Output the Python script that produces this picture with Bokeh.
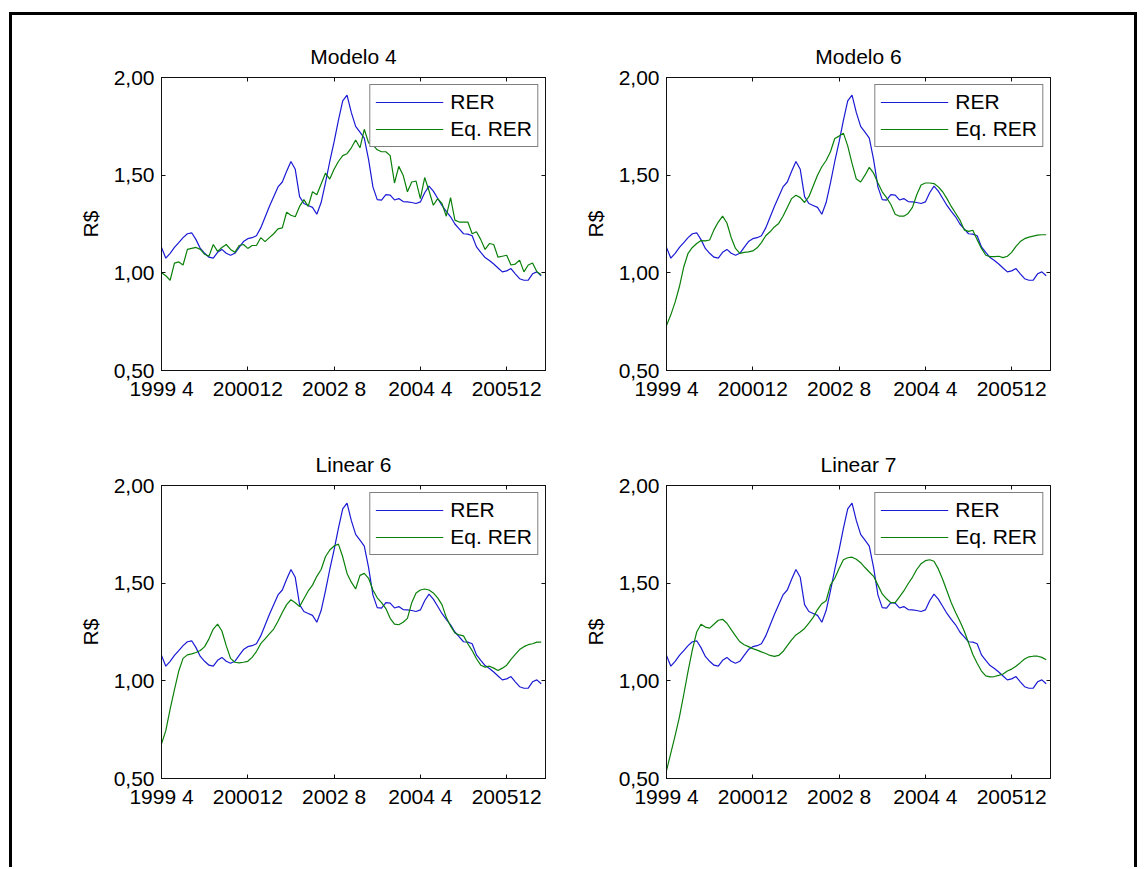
from bokeh.plotting import figure
from bokeh.models import (Range1d, FixedTicker, LinearAxis, Legend, LegendItem,
                          CustomJSTickFormatter)
from bokeh.layouts import column, row
from bokeh.embed import file_html
from bokeh.resources import INLINE

# Monthly series, 1999-04 .. 2006-08 (month index 1..89)
months = list(range(1, 90))

# Real exchange rate (R$), common to every panel
rer = [1.13, 1.075, 1.10, 1.13, 1.155, 1.18, 1.20, 1.205, 1.17, 1.125,
       1.10, 1.08, 1.075, 1.105, 1.12, 1.10, 1.09, 1.10, 1.13, 1.16,
       1.175, 1.18, 1.19, 1.23, 1.285, 1.34, 1.39, 1.44, 1.465, 1.52,
       1.57, 1.53, 1.39, 1.355, 1.345, 1.335, 1.30, 1.36, 1.46, 1.57,
       1.67, 1.78, 1.88, 1.91, 1.82, 1.75, 1.72, 1.69, 1.58, 1.44,
       1.375, 1.372, 1.40, 1.398, 1.373, 1.38, 1.365, 1.363, 1.36, 1.355,
       1.363, 1.41, 1.444, 1.418, 1.382, 1.345, 1.315, 1.287, 1.25, 1.225,
       1.20, 1.198, 1.19, 1.133, 1.105, 1.078, 1.063, 1.045, 1.025, 1.005,
       1.01, 1.022, 0.995, 0.97, 0.962, 0.963, 0.995, 1.005, 0.985]

# Equilibrium real exchange rate estimated by each model
eq_modelo4 = [1.00, 0.985, 0.962, 1.05, 1.056, 1.04, 1.12, 1.125, 1.13, 1.12,
              1.095, 1.085, 1.145, 1.11, 1.13, 1.145, 1.12, 1.105, 1.14, 1.145,
              1.125, 1.14, 1.14, 1.18, 1.16, 1.18, 1.20, 1.225, 1.23, 1.31,
              1.295, 1.287, 1.34, 1.375, 1.34, 1.415, 1.40, 1.455, 1.51, 1.48,
              1.53, 1.57, 1.60, 1.61, 1.64, 1.68, 1.64, 1.735, 1.665, 1.655,
              1.63, 1.62, 1.62, 1.60, 1.46, 1.545, 1.50, 1.415, 1.465, 1.47,
              1.38, 1.488, 1.42, 1.346, 1.38, 1.355, 1.29, 1.385, 1.27, 1.26,
              1.26, 1.26, 1.20, 1.21, 1.17, 1.12, 1.15, 1.145, 1.08, 1.085,
              1.09, 1.04, 1.045, 1.065, 1.005, 1.04, 1.05, 1.005, 0.99]

eq_modelo6 = [0.73, 0.785, 0.85, 0.93, 1.03, 1.10, 1.13, 1.15, 1.165, 1.164,
              1.168, 1.22, 1.26, 1.29, 1.255, 1.18, 1.125, 1.10, 1.105, 1.107,
              1.112, 1.128, 1.155, 1.19, 1.21, 1.235, 1.253, 1.29, 1.335, 1.38,
              1.397, 1.385, 1.36, 1.39, 1.445, 1.50, 1.543, 1.575, 1.62, 1.688,
              1.70, 1.715, 1.65, 1.56, 1.48, 1.465, 1.50, 1.54, 1.51, 1.46,
              1.415, 1.385, 1.35, 1.30, 1.29, 1.29, 1.304, 1.335, 1.40, 1.45,
              1.46, 1.46, 1.457, 1.44, 1.415, 1.38, 1.34, 1.305, 1.27, 1.22,
              1.212, 1.218, 1.17, 1.125, 1.09, 1.083, 1.083, 1.085, 1.078, 1.085,
              1.105, 1.135, 1.16, 1.175, 1.183, 1.188, 1.193, 1.195, 1.195]

eq_linear6 = [0.677, 0.745, 0.855, 0.955, 1.05, 1.115, 1.133, 1.138, 1.145, 1.155,
              1.175, 1.215, 1.265, 1.29, 1.255, 1.18, 1.115, 1.095, 1.092, 1.095,
              1.10, 1.12, 1.15, 1.19, 1.215, 1.24, 1.265, 1.305, 1.35, 1.39,
              1.415, 1.40, 1.38, 1.42, 1.46, 1.49, 1.535, 1.57, 1.635, 1.67,
              1.69, 1.70, 1.635, 1.55, 1.505, 1.47, 1.54, 1.55, 1.525, 1.465,
              1.425, 1.40, 1.37, 1.32, 1.29, 1.287, 1.30, 1.32, 1.40, 1.45,
              1.465, 1.47, 1.465, 1.45, 1.425, 1.39, 1.325, 1.28, 1.245, 1.235,
              1.23, 1.19, 1.155, 1.113, 1.08, 1.07, 1.075, 1.065, 1.053, 1.065,
              1.08, 1.11, 1.135, 1.16, 1.175, 1.185, 1.19, 1.198, 1.198]

eq_linear7 = [0.54, 0.63, 0.72, 0.815, 0.93, 1.05, 1.16, 1.25, 1.29, 1.275,
              1.27, 1.29, 1.31, 1.315, 1.295, 1.262, 1.23, 1.20, 1.185, 1.175,
              1.165, 1.157, 1.148, 1.14, 1.13, 1.125, 1.13, 1.15, 1.18, 1.21,
              1.235, 1.25, 1.268, 1.295, 1.325, 1.365, 1.395, 1.41, 1.49, 1.525,
              1.575, 1.62, 1.63, 1.633, 1.622, 1.605, 1.58, 1.557, 1.535, 1.49,
              1.445, 1.42, 1.40, 1.40, 1.43, 1.46, 1.497, 1.53, 1.57, 1.60,
              1.615, 1.62, 1.612, 1.573, 1.52, 1.46, 1.40, 1.35, 1.305, 1.255,
              1.195, 1.135, 1.09, 1.05, 1.025, 1.02, 1.022, 1.028, 1.035, 1.05,
              1.06, 1.075, 1.093, 1.112, 1.123, 1.126, 1.126, 1.12, 1.108]

x_ticks = [1, 21, 41, 61, 81]
x_tick_labels = ["1999 4", "200012", "2002 8", "2004 4", "200512"]
y_ticks = [0.5, 1.0, 1.5, 2.0]
y_tick_labels = ["0,50", "1,00", "1,50", "2,00"]

FONT = "Liberation Sans"
FS = "21px"
BLUE = "#1a1ad4"
GREEN = "#0a800a"
AXIS = "#111111"


def style_axis(ax, labels=True):
    ax.major_tick_in = 4
    ax.major_tick_out = 0
    ax.minor_tick_line_color = None
    ax.axis_line_color = AXIS
    ax.major_tick_line_color = AXIS
    if labels:
        ax.major_label_text_font = FONT
        ax.major_label_text_font_size = FS
        ax.major_label_text_color = "#000000"
    else:
        ax.formatter = CustomJSTickFormatter(code="return ''")
        ax.major_label_text_font_size = "1px"
        ax.major_label_standoff = 0


def make_panel(title, eq, w, h, bl, br, bt, bb):
    p = figure(width=w, height=h, output_backend="svg", toolbar_location=None,
               x_range=Range1d(1, 90), y_range=Range1d(0.5, 2.0),
               min_border_left=bl, min_border_right=br,
               min_border_top=bt, min_border_bottom=bb,
               background_fill_color="white", border_fill_color="white")
    p.grid.visible = False
    p.outline_line_color = AXIS

    p.xaxis.ticker = FixedTicker(ticks=x_ticks)
    p.xaxis.major_label_overrides = dict(zip(x_ticks, x_tick_labels))
    p.xaxis.major_label_standoff = 6
    p.yaxis.ticker = FixedTicker(ticks=y_ticks)
    p.yaxis.major_label_overrides = dict(zip(y_ticks, y_tick_labels))
    p.yaxis.major_label_standoff = 7
    p.yaxis.axis_label = "R$"
    p.yaxis.axis_label_text_font = FONT
    p.yaxis.axis_label_text_font_size = FS
    p.yaxis.axis_label_text_font_style = "normal"
    p.yaxis.axis_label_text_color = "#000000"
    p.yaxis.axis_label_standoff = 9
    style_axis(p.xaxis[0])
    style_axis(p.yaxis[0])

    top_ax = LinearAxis(ticker=FixedTicker(ticks=x_ticks))
    right_ax = LinearAxis(ticker=FixedTicker(ticks=y_ticks))
    style_axis(top_ax, labels=False)
    style_axis(right_ax, labels=False)
    p.add_layout(top_ax, "above")
    p.add_layout(right_ax, "right")

    p.title.text = title
    p.title.align = "center"
    p.title.text_font = FONT
    p.title.text_font_size = FS
    p.title.text_font_style = "normal"
    p.title.text_color = "#000000"
    p.title.standoff = 19

    r1 = p.line(months, rer, line_color=BLUE, line_width=1.2)
    r2 = p.line(months, eq, line_color=GREEN, line_width=1.2)

    leg = Legend(items=[LegendItem(label="RER", renderers=[r1]),
                        LegendItem(label="Eq. RER", renderers=[r2])],
                 location="top_right")
    leg.margin = 7
    leg.padding = 5
    leg.spacing = 3
    leg.glyph_width = 68
    leg.glyph_height = 22
    leg.label_height = 22
    leg.label_standoff = 7
    leg.label_text_font = FONT
    leg.label_text_font_size = FS
    leg.label_text_color = "#000000"
    leg.border_line_color = "#000000"
    leg.border_line_width = 1
    leg.background_fill_alpha = 1.0
    p.add_layout(leg)
    return p


p1 = make_panel("Modelo 4", eq_modelo4, 548, 415, 149, 15, 62, 60)
p2 = make_panel("Modelo 6", eq_modelo6, 574, 415, 106, 84, 62, 60)
p3 = make_panel("Linear 6", eq_linear6, 548, 437, 149, 15, 55, 89)
p4 = make_panel("Linear 7", eq_linear7, 574, 437, 106, 84, 55, 89)

layout = column(row(p1, p2, spacing=0), row(p3, p4, spacing=0), spacing=0,
                margin=(12, 0, 0, 9),
                styles={"border-top": "3px solid #000",
                        "border-left": "3px solid #000",
                        "border-right": "3px solid #000"})

with open("out.html", "w") as f:
    f.write(file_html(layout, INLINE))
